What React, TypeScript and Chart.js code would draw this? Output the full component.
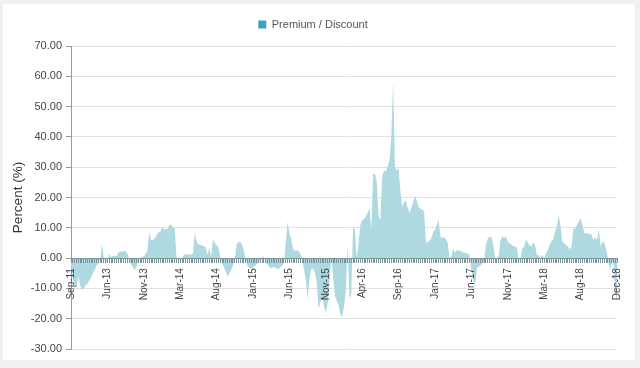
import React, { useEffect, useRef } from 'react';
import { Chart, registerables } from 'chart.js';

Chart.register(...registerables);

const tickLabels = [
  'Sep-11', 'Jun-13', 'Nov-13', 'Mar-14', 'Aug-14', 'Jan-15', 'Jun-15', 'Nov-15',
  'Apr-16', 'Sep-16', 'Jan-17', 'Jun-17', 'Nov-17', 'Mar-18', 'Aug-18', 'Dec-18',
];
const weeksPerTick = 20;

const premiumDiscount = [
  -2, -7, -9, -10, -6, -9, -10.5, -10, -9, -8.5, -7.5, -6.5, -5, -4, -2.5, -1.5, -0.5, 4.5, 0.5, -2,
  -1, 1.5, 0.3, 0.8, 0.8, 0.5, 1.8, 2.2, 2.0, 2.5, 2.3, 1.5, -0.5, -2, -3, -4, -2.5, -1, 0, 0.3,
  0.5, 1.5, 2.5, 8.5, 6, 6, 6.5, 7.5, 8.5, 8.5, 10.3, 9.5, 9.5, 9.5, 10.8, 11.2, 10, 10, 0, -0.5,
  -0.3, 0, 1, 1.3, 1.2, 1.3, 1.2, 1.5, 8.5, 5.5, 4.5, 4.5, 4, 4, 3.5, 1, 3.3, 0.5, 6.2, 5,
  4.3, 3.5, 0.5, -1.5, -3, -4.5, -6, -5, -4, -2.5, -0.5, 4.5, 5.3, 5.2, 4.5, 2.5, -0.5, -2.5, -3.3, -3.5,
  -3, -2.5, -2, -1.5, -0.5, 0.5, 0.3, -1.5, -2, -3, -3.3, -3, -3, -3.5, -3.7, -3, -2.5, -1.5, 5, 12,
  8, 6.3, 3, 2.4, 2.5, 2.4, 1.5, 0, -4, -7, -13.5, -7, -3.5, -3.5, -4.7, -8, -16.8, -14.6, -12.9, -16,
  -18, -15, -8, 0.3, -6, -12.5, -14, -15.5, -18.5, -19.5, -16, -11, 4.2, -13.5, -12, 10.4, 9.3, 0, 5, 11,
  12.6, 12.8, 13.7, 15, 16.5, 9.3, 27.8, 27.8, 25, 13.7, 12.6, 27, 28.8, 28.6, 30.2, 32.4, 40, 58.5, 30, 29,
  29.7, 22, 17, 18.5, 19, 16.5, 14.8, 16.5, 18.5, 20.5, 19, 16.8, 16.3, 16, 15.5, 5, 5.2, 5.8, 6.5, 8.8,
  9.3, 11, 12.6, 7, 6.6, 7, 6.2, 5, 0, 0.5, 3.3, 1.8, 2.7, 2.4, 2.5, 2, 1.8, 1.7, 1.5, 1,
  -4, -7, -9.3, -3.3, -2.8, -2.5, -1.8, -1.2, 4.5, 6.5, 7.1, 7, 4.5, 0, 0, 0.5, 6, 7.1, 6.6, 7.1,
  5.5, 4.9, 4.5, 4, 3.8, 3.5, -1, 0, 3.3, 3.6, 6.3, 5, 4.2, 3.8, 5.2, 4, 1, 1, 0, 1,
  0, 1.5, 2.7, 4.5, 5.5, 6.2, 8.8, 10.5, 14.3, 10.4, 5.5, 4.9, 4.3, 3.8, 3, 3.5, 9.9, 9.5, 11, 12,
  13.2, 11, 8.2, 8.2, 8.1, 8, 7.8, 6, 6.8, 6, 9.6, 3.8, 5.5, 5, 3, 0, -4, -2, -1, -11.5, -14,
];

const yMin = -30;
const yMax = 70;
const yStep = 10;

const categories = premiumDiscount.map((_, i) =>
  i % weeksPerTick === 0 ? tickLabels[i / weeksPerTick] ?? '' : ''
);

const FONT = "'Liberation Sans', Arial, Helvetica, sans-serif";

const legendSpacer = {
  id: 'legendSpacer',
  beforeUpdate(chart: any) {
    const lg = chart.legend;
    if (lg && !lg._spacerPatched) {
      const orig = lg.fit.bind(lg);
      lg.fit = function () {
        orig();
        this.height += 6;
      };
      lg._spacerPatched = true;
    }
  },
};

export default function App() {
  const canvasRef = useRef<HTMLCanvasElement | null>(null);

  useEffect(() => {
    document.body.style.margin = '0';
    document.body.style.background = '#f1f1f1';
    const canvas = canvasRef.current;
    if (!canvas) return;
    Chart.defaults.font.family = FONT;
    const chart = new Chart(canvas, {
      type: 'line',
      data: {
        labels: categories,
        datasets: [
          {
            label: 'Premium / Discount',
            data: premiumDiscount,
            fill: 'origin',
            backgroundColor: '#aed9e0',
            borderColor: 'rgba(0,0,0,0)',
            borderWidth: 0,
            pointRadius: 0,
            tension: 0,
          },
        ],
      },
      plugins: [legendSpacer],
      options: {
        animation: false,
        responsive: false,
        layout: { padding: { top: 5, right: 12, bottom: 11, left: 0 } },
        plugins: {
          tooltip: { enabled: false },
          legend: {
            display: true,
            position: 'top',
            labels: {
              boxWidth: 8,
              boxHeight: 8,
              color: '#555',
              font: { size: 11, family: FONT },
              generateLabels: (c: any) =>
                Chart.defaults.plugins.legend.labels
                  .generateLabels(c)
                  .map((l: any) => ({ ...l, fillStyle: '#3ca1b7', strokeStyle: '#3ca1b7', lineWidth: 0 })),
            },
          },
        },
        scales: {
          x: {
            type: 'category',
            position: { y: 0 } as any,
            offset: false,
            grid: {
              display: true,
              drawOnChartArea: false,
              drawTicks: true,
              tickLength: 4,
              tickColor: '#7d949b',
              z: 1,
            },
            border: { display: true, color: '#7d949b', width: 1, z: 1 },
            ticks: {
              autoSkip: false,
              minRotation: 90,
              maxRotation: 90,
              padding: 6,
              color: '#444',
              font: { size: 10, family: FONT },
              z: 1,
            },
          },
          y: {
            min: yMin,
            max: yMax,
            afterFit: (s: any) => {
              s.width = 68;
            },
            ticks: {
              stepSize: yStep,
              padding: 4,
              color: '#444',
              font: { size: 11, family: FONT },
              callback: (v: any) => Number(v).toFixed(2),
            },
            grid: {
              color: '#e2e2e2',
              tickColor: '#999',
              tickLength: 5,
            },
            border: { display: true, color: '#999' },
            title: {
              display: true,
              text: 'Percent (%)',
              color: '#333',
              font: { size: 13.5, family: FONT },
              padding: { top: 7, bottom: 4 },
            },
          },
        },
      },
    });
    return () => chart.destroy();
  }, []);

  return (
    <div style={{ position: 'relative', width: 640, height: 368, background: '#f1f1f1' }}>
      <div style={{ position: 'absolute', left: 3, top: 4, width: 632, height: 356, background: '#fff' }}>
        <canvas ref={canvasRef} width={632} height={356} style={{ display: 'block', width: 632, height: 356 }} />
      </div>
    </div>
  );
}
